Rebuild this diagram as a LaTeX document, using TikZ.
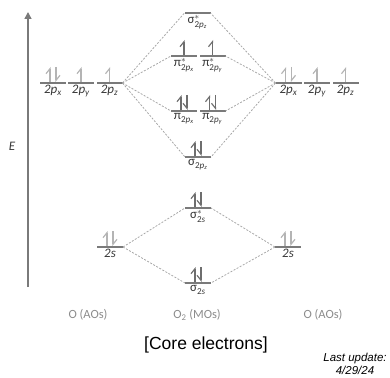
\documentclass[tikz,border=0pt]{standalone}
\usepackage{amsmath}
\usepackage{fontspec}
\setmainfont{Carlito}
\newfontfamily\arialfont{Liberation Sans}
\usepackage{xcolor}
\usetikzlibrary{arrows.meta, positioning}
\definecolor{lvlgray}{HTML}{7A7A7A}
\definecolor{txtgray}{HTML}{383838}
\definecolor{capgray}{HTML}{8C8C8C}
\definecolor{aoelec}{HTML}{B4B4B4}
\definecolor{moelec}{HTML}{6E6E6E}
\definecolor{dashgray}{HTML}{A8A8A8}
\newcommand{\aolbl}[1]{\textit{2p}\textsubscript{\textit{#1}}}
\newcommand{\molbl}[3]{#1$^{#2}_{\text{#3}}$}
\tikzset{
  % levels: thin filled bars
  level/.style={fill=lvlgray, inner sep=0pt, outer sep=0pt, minimum width=26pt, minimum height=2pt,
    label distance=2pt},
  lbl/.style={text=txtgray, font=\fontsize{13}{15}\selectfont, inner sep=1pt},
  collbl/.style={text=capgray, font=\fontsize{12.5}{15}\selectfont},
  link/.style={dashgray, line width=0.8pt, dash pattern=on 2pt off 1.5pt},
  axis/.style={lvlgray, line width=1.5pt, -{Triangle[length=7pt,width=7pt]}},
  elec/.style={line width=1.2pt},
  % electrons
  pics/eup/.style={code={
    \draw[elec,-{Straight Barb[left,length=5pt,width=8pt]}] (0,-1) -- (0,-16);}},
  pics/epair/.style={code={
    \draw[elec,-{Straight Barb[left,length=5pt,width=8pt]}] (-3,-1) -- (-3,-16);
    \draw[elec,-{Straight Barb[#1,length=5pt,width=8pt]}] (3,-16) -- (3,-1);}},
  pics/epair/.default=left
}
\begin{document}
\begin{tikzpicture}[x=1pt, y=-1pt]
    \useasboundingbox (0,0) rectangle (390,377);
    % energy axis
    \coordinate (Ebot) at (28,287);
    \coordinate (Etop) at (28,12);
    \draw[axis] (Ebot) -- (Etop);
    \node[lbl] (Elabel) at (12,146) {\textit{E}};
    % left atom
    \node[level, label={[lbl]below:\aolbl{x}}] (L2px) at (53,83) {};
    \node[level, label={[lbl]below:\aolbl{y}}] (L2py) at (81,83) {};
    \node[level, label={[lbl]below:\aolbl{z}}] (L2pz) at (109.5,83) {};
    \node[level, label={[lbl]below:\textit{2s}}] (L2s) at (110,247) {};
    % right atom
    \node[level, label={[lbl]below:\aolbl{x}}] (R2px) at (288.5,83) {};
    \node[level, label={[lbl]below:\aolbl{y}}] (R2py) at (317,83) {};
    \node[level, label={[lbl]below:\aolbl{z}}] (R2pz) at (345.5,83) {};
    \node[level, label={[lbl]below:\textit{2s}}] (R2s) at (288,247) {};
    % molecule
    \node[level, label={[lbl]below:\molbl{σ}{*}{2\textit{p}\textsubscript{\textit{z}}}}] (SgP2) at (197.5,13) {};
    \node[level, label={[lbl]below:\molbl{π}{*}{2\textit{p}\textsubscript{\textit{x}}}}] (PiSx) at (184,56) {};
    \node[level, label={[lbl]below:\molbl{π}{*}{2\textit{p}\textsubscript{\textit{y}}}}] (PiSy) at (212.5,56) {};
    \node[level, label={[lbl]below:\molbl{π}{}{2\textit{p}\textsubscript{\textit{x}}}}] (Pix) at (184,111) {};
    \node[level, label={[lbl]below:\molbl{π}{}{2\textit{p}\textsubscript{\textit{y}}}}] (Piy) at (212.5,111) {};
    \node[level, label={[lbl]below:\molbl{σ}{}{2\textit{p}\textsubscript{\textit{z}}}}] (SgP) at (198,157) {};
    \node[level, label={[lbl]below:\molbl{σ}{*}{2\textit{s}}}] (SgS2) at (198,208) {};
    \node[level, label={[lbl]below:\molbl{σ}{}{2\textit{s}}}] (SgS) at (198,283) {};
    % electrons
    \pic[aoelec] at (L2px) {epair};
    \pic[aoelec] at (L2py) {eup};
    \pic[aoelec] at (L2pz) {eup};
    \pic[aoelec] at (L2s) {epair};
    \pic[aoelec] at (R2px) {epair};
    \pic[aoelec] at (R2py) {eup};
    \pic[aoelec] at (R2pz) {eup};
    \pic[aoelec] at (R2s) {epair};
    \pic[moelec] at (PiSx) {eup};
    \pic[moelec] at (PiSy) {eup};
    \pic[moelec] at (Pix) {epair=right};
    \pic[moelec] at (Piy) {epair=right};
    \pic[moelec] at (SgP) {epair=right};
    \pic[moelec] at (SgS2) {epair=right};
    \pic[moelec] at (SgS) {epair=right};
    % correlation lines
    \draw[link] (L2pz.east) -- (SgP2.west);
    \draw[link] (L2pz.east) -- (PiSx.west);
    \draw[link] (L2pz.east) -- (Pix.west);
    \draw[link] (L2pz.east) -- (SgP.west);
    \draw[link] (R2px.west) -- (SgP2.east);
    \draw[link] (R2px.west) -- (PiSy.east);
    \draw[link] (R2px.west) -- (Piy.east);
    \draw[link] (R2px.west) -- (SgP.east);
    \draw[link] (L2s.east) -- (SgS2.west);
    \draw[link] (L2s.east) -- (SgS.west);
    \draw[link] (R2s.west) -- (SgS2.east);
    \draw[link] (R2s.west) -- (SgS.east);
    % captions
    \node[collbl] (ColL) at (88,315) {O (AOs)};
    \node[collbl] (ColM) at (197,315) {O\textsubscript{2} (MOs)};
    \node[collbl] (ColR) at (323,315) {O (AOs)};
    \node[font=\arialfont\fontsize{17.5}{20}\selectfont] (Core) at (206,345) {[Core electrons]};
    \node[font=\arialfont\itshape\fontsize{11.5}{12.5}\selectfont, align=center, inner sep=0pt] (Upd) at (355,364) {Last update:\\4/29/24};
\end{tikzpicture}
\end{document}
